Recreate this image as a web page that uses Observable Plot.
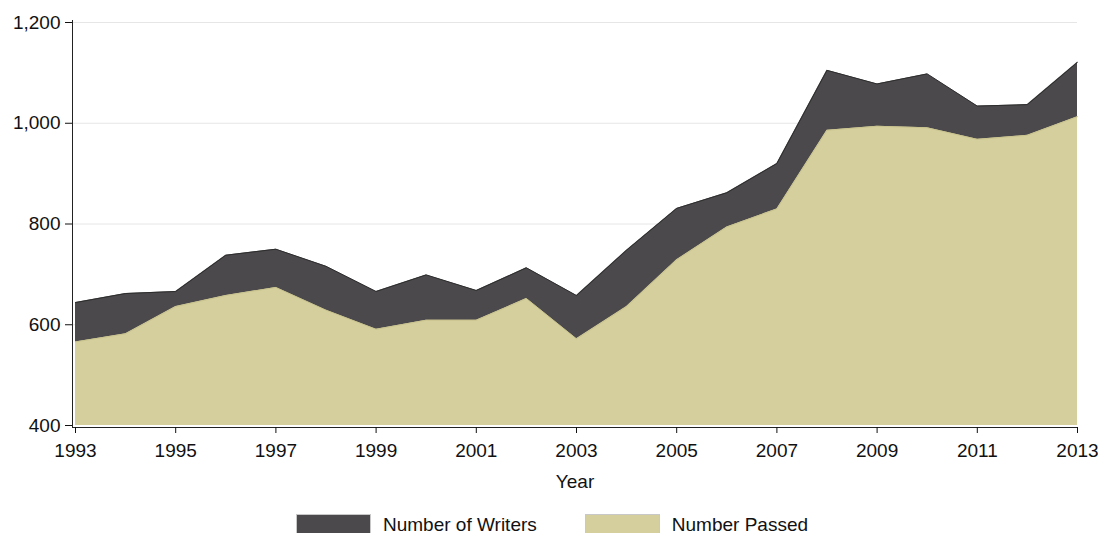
<!DOCTYPE html>
<html>
<head>
<meta charset="utf-8">
<script src="https://cdn.jsdelivr.net/npm/d3@7"></script>
<script src="https://cdn.jsdelivr.net/npm/@observablehq/plot@0.6"></script>
<style>
  body { margin: 0; background: #fff; font-family: "Liberation Sans", Arial, sans-serif; }
  #legend { display: flex; justify-content: flex-start; align-items: center; height: 33px; margin-top: 8px; padding-left: 296px; font-size: 19px; color: #111; }
  .item { display: flex; align-items: center; }
  .sw { width: 75px; height: 22px; box-sizing: border-box; border: 1px solid #c8c8c8; margin-right: 12px; }
</style>
</head>
<body>
<div id="chart"></div>
<div id="legend"></div>
<script>
const years = [1993,1994,1995,1996,1997,1998,1999,2000,2001,2002,2003,2004,2005,2006,2007,2008,2009,2010,2011,2012,2013];
const writers = [644,662,666,738,750,716,666,699,668,713,658,748,831,862,920,1105,1078,1098,1034,1037,1121];
const passed = [566,582,636,658,674,629,591,609,609,652,572,636,729,794,830,986,994,991,968,976,1013];
const yTicks = [400,600,800,1000,1200];
const xTicks = [1993,1995,1997,1999,2001,2003,2005,2007,2009,2011,2013];
const seriesNames = ["Number of Writers", "Number Passed"];
const seriesColors = ["#4b494b", "#d5cf9d"];

const data = years.map((y, i) => ({year: y, writers: writers[i], passed: passed[i]}));

const chart = Plot.plot({
  width: 1098,
  height: 500,
  marginLeft: 72,
  marginRight: 21,
  marginTop: 20,
  marginBottom: 73,
  style: {fontFamily: "Liberation Sans, Arial, sans-serif", fontSize: "19px", color: "#111"},
  x: {domain: [1993, 2013], insetLeft: 3, insetRight: 0},
  y: {domain: [400, 1200], insetBottom: 2, insetTop: 2},
  marks: [
    Plot.ruleY(yTicks.slice(1), {stroke: "#e6e6e6", strokeWidth: 1}),
    Plot.areaY(data, {x: "year", y1: 400, y2: "writers", fill: seriesColors[0]}),
    Plot.lineY(data, {x: "year", y: "writers", stroke: "#2e2d2e", strokeWidth: 1}),
    Plot.areaY(data, {x: "year", y1: 400, y2: "passed", fill: seriesColors[1]}),
    Plot.lineY(data, {x: "year", y: "passed", stroke: "#c9c38f", strokeWidth: 1}),
    Plot.frame({anchor: "left", stroke: "#222"}),
    Plot.frame({anchor: "bottom", stroke: "#222"}),
    Plot.axisY({ticks: yTicks, tickFormat: d3.format(","), tickSize: 7, tickPadding: 5, label: null, fontSize: 19}),
    Plot.axisX({ticks: xTicks, tickFormat: d => String(d), tickSize: 6, tickPadding: 10, label: null, fontSize: 19}),
    Plot.text(["Year"], {frameAnchor: "bottom", dy: 60, text: d => d, fontSize: 19})
  ]
});
document.getElementById("chart").append(chart);

const legend = document.getElementById("legend");
seriesNames.forEach((name, i) => {
  const item = document.createElement("div");
  item.className = "item";
  item.style.marginRight = i === 0 ? "48px" : "0";
  const sw = document.createElement("div");
  sw.className = "sw";
  sw.style.background = seriesColors[i];
  const lab = document.createElement("span");
  lab.textContent = name;
  item.append(sw, lab);
  legend.append(item);
});
</script>
</body>
</html>
